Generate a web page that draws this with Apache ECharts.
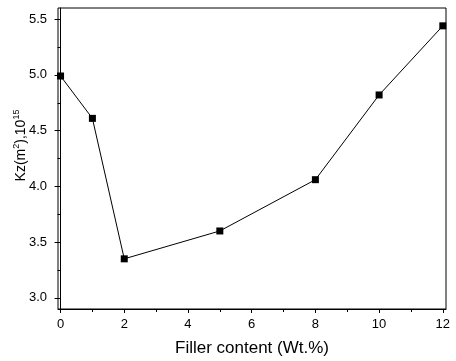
<!DOCTYPE html>
<html>
<head>
<meta charset="utf-8">
<script src="https://cdn.jsdelivr.net/npm/echarts@6/dist/echarts.min.js"></script>
<style>
  html, body {margin: 0; padding: 0; background: #fff;}
  #main {width: 456px; height: 361px;}
</style>
</head>
<body>
<div id="main"></div>
<script>
// values
const fillerContent = [0, 1, 2, 5, 8, 10, 12];
const kzValues = [4.99, 4.61, 3.35, 3.60, 4.06, 4.82, 5.44];

const xMajorTicks = [0, 2, 4, 6, 8, 10, 12];
const xMinorTicks = [1, 3, 5, 7, 9, 11];
const yMajorTicks = [3.0, 3.5, 4.0, 4.5, 5.0, 5.5];
const yMinorTicks = [3.25, 3.75, 4.25, 4.75, 5.25];

const font = 'Liberation Sans, Arial, sans-serif';
const chart = echarts.init(document.getElementById('main'));

const option = {
  animation: false,
  grid: {
    left: 58, right: 10, top: 8, bottom: 52,
    outerBoundsMode: 'none',
    containLabel: false,
    show: true, borderColor: '#000', borderWidth: 1,
  },
  xAxis: [
    {
      type: 'value',
      min: -0.08,
      max: 12.1,
      name: 'Filler content (Wt.%)',
      nameLocation: 'middle',
      nameGap: 31,
      nameTextStyle: {fontFamily: font, fontSize: 17, color: '#000'},
      axisLine: {show: true, lineStyle: {color: '#000', width: 1}},
      axisTick: {show: true, length: 4, customValues: xMajorTicks, lineStyle: {color: '#000'}},
      axisLabel: {
        customValues: xMajorTicks, margin: 9,
        fontFamily: font, fontSize: 13, color: '#000',
        formatter: v => String(v),
      },
      splitLine: {show: false},
    },
    {
      type: 'value',
      position: 'bottom',
      min: -0.08,
      max: 12.1,
      axisLine: {show: false},
      axisTick: {show: true, length: 3, customValues: xMinorTicks, lineStyle: {color: '#000'}},
      axisLabel: {show: false},
      splitLine: {show: false},
    },
  ],
  yAxis: [
    {
      type: 'value',
      min: 2.9,
      max: 5.6,
      name: '{a|Kz(m}{s|2}{a|),10}{s|15}',
      nameLocation: 'middle',
      nameGap: 28,
      nameRotate: 90,
      nameMoveOverlap: false,
      nameTextStyle: {
        padding: [0, 0, 0, 26],
        rich: {
          a: {fontFamily: font, fontSize: 14, color: '#000', lineHeight: 18},
          s: {fontFamily: font, fontSize: 9, color: '#000', verticalAlign: 'top', lineHeight: 18},
        },
      },
      axisLine: {show: true, lineStyle: {color: '#000', width: 1}},
      axisTick: {show: true, length: 6, customValues: yMajorTicks, lineStyle: {color: '#000'}},
      axisLabel: {
        customValues: yMajorTicks, margin: 11,
        fontFamily: font, fontSize: 13, color: '#000',
        formatter: v => v.toFixed(1),
      },
      splitLine: {show: false},
    },
    {
      type: 'value',
      position: 'left',
      min: 2.9,
      max: 5.6,
      axisLine: {show: false},
      axisTick: {show: true, length: 3, customValues: yMinorTicks, lineStyle: {color: '#000'}},
      axisLabel: {show: false},
      splitLine: {show: false},
    },
  ],
  series: [
    {
      type: 'line',
      data: fillerContent.map((x, i) => [x, kzValues[i]]),
      symbol: 'rect',
      symbolSize: 7,
      itemStyle: {color: '#000'},
      lineStyle: {color: '#000', width: 1},
      clip: false,
    },
  ],
};
chart.setOption(option);
</script>
</body>
</html>
